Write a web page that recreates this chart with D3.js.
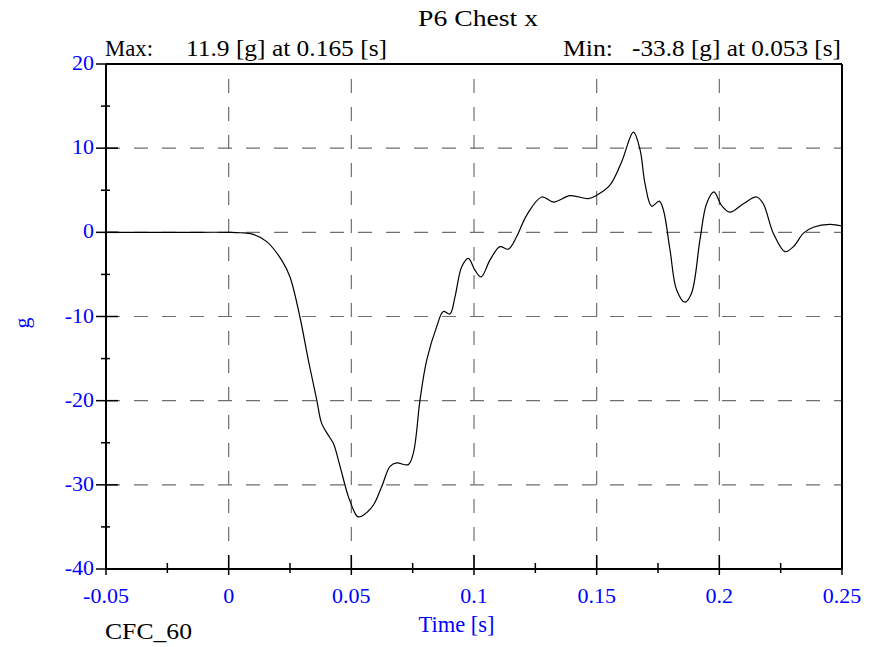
<!DOCTYPE html>
<html><head><meta charset="utf-8">
<script src="https://cdn.jsdelivr.net/npm/d3@7"></script>
<style>body{margin:0;background:#fff;} svg{display:block;}</style>
</head><body><div id="chart"></div>
<script>
const title = "P6 Chest x";
const maxKey = "Max:", maxText = "11.9 [g] at 0.165 [s]";
const minKey = "Min:", minText = "-33.8 [g] at 0.053 [s]";
const xTicks = [-0.05, 0, 0.05, 0.1, 0.15, 0.2, 0.25];
const xTickLabels = ["-0.05","0","0.05","0.1","0.15","0.2","0.25"];
const yTicks = [20, 10, 0, -10, -20, -30, -40];
const yTickLabels = ["20","10","0","-10","-20","-30","-40"];
const times = [-0.05,-0.02,0,0.005,0.010,0.0155,0.0216,0.025,0.029,0.0325,0.0359,0.0379,0.0406,0.0427,0.0454,0.0488,0.0522,0.053,0.0549,0.059,0.0624,0.0658,0.0685,0.0732,0.0753,0.078,0.0807,0.0848,0.0875,0.0902,0.0923,0.095,0.0977,0.1004,0.1029,0.1065,0.1106,0.114,0.1174,0.1215,0.1276,0.1324,0.1392,0.1466,0.150,0.1554,0.1602,0.165,0.1677,0.1697,0.1724,0.1755,0.1772,0.1799,0.1826,0.186,0.1887,0.1921,0.1948,0.1978,0.2009,0.2043,0.2098,0.2152,0.2179,0.222,0.2268,0.2302,0.2343,0.2383,0.2451,0.25];
const values = [0,0,0,-0.05,-0.24,-1.1,-3.3,-5.3,-10,-15.2,-19.9,-22.7,-24.1,-25.1,-27.8,-31.4,-33.7,-33.8,-33.6,-32.4,-30.2,-27.8,-27.4,-27.6,-26.2,-19.9,-15.2,-11.2,-9.4,-9.7,-7.6,-4.1,-3.1,-4.5,-5.3,-3.3,-1.7,-2.0,-0.5,2.05,4.2,3.6,4.35,4.0,4.4,5.6,8.4,11.9,9.8,5.8,3.1,3.7,2.65,-2.1,-6.85,-8.3,-7.2,-0.9,3.4,4.8,3.2,2.4,3.4,4.2,3.4,-0.1,-2.3,-1.7,-0.1,0.6,0.95,0.75];

const W = 882, H = 647;
const L = 106, R = 842, T = 64, B = 569;
const svg = d3.select("#chart").append("svg").attr("width", W).attr("height", H);
const x = d3.scaleLinear().domain([-0.05, 0.25]).range([L, R]);
const y = d3.scaleLinear().domain([-40, 20]).range([B, T]);
const font = "'Liberation Serif', 'Times New Roman', serif";

// grid
const grid = svg.append("g").attr("stroke", "#6e6e6e").attr("stroke-width", 1.2).attr("stroke-dasharray", "14,14");
xTicks.slice(1, -1).forEach(t => grid.append("line").attr("x1", x(t)).attr("x2", x(t)).attr("y1", B).attr("y2", T));
yTicks.slice(1, -1).forEach(v => grid.append("line").attr("x1", L).attr("x2", R).attr("y1", y(v)).attr("y2", y(v)));

// curve
const pts = times.map((t, i) => [t, values[i]]);
svg.append("path").datum(pts)
  .attr("fill", "none").attr("stroke", "#000").attr("stroke-width", 1.2)
  .attr("d", d3.line().x(d => x(d[0])).y(d => y(d[1])).curve(d3.curveCatmullRom.alpha(0.5)));

// frame
const ax = svg.append("g").attr("stroke", "#000");
ax.append("line").attr("x1", L).attr("x2", R).attr("y1", B).attr("y2", B).attr("stroke-width", 2);
ax.append("line").attr("x1", L).attr("x2", L).attr("y1", B).attr("y2", T).attr("stroke-width", 2);
ax.append("line").attr("x1", L).attr("x2", R).attr("y1", T).attr("y2", T).attr("stroke-width", 2);
ax.append("line").attr("x1", R).attr("x2", R).attr("y1", B).attr("y2", T).attr("stroke-width", 2);

// x ticks
const xMinor = d3.range(-0.025, 0.25, 0.05);
xTicks.forEach(t => ax.append("line").attr("x1", x(t)).attr("x2", x(t)).attr("y1", B + 6).attr("y2", B - 14).attr("stroke-width", 1.5));
xMinor.forEach(t => ax.append("line").attr("x1", x(t)).attr("x2", x(t)).attr("y1", B + 4).attr("y2", B - 6).attr("stroke-width", 1.5));
// y ticks
const yMinor = d3.range(-35, 20, 10);
yTicks.forEach(v => ax.append("line").attr("x1", L - 10).attr("x2", L + 12).attr("y1", y(v)).attr("y2", y(v)).attr("stroke-width", 1.5));
yMinor.forEach(v => ax.append("line").attr("x1", L - 5).attr("x2", L + 4).attr("y1", y(v)).attr("y2", y(v)).attr("stroke-width", 1.5));

// labels
const txt = svg.append("g").attr("font-family", font);
xTicks.forEach((t, i) => txt.append("text").attr("x", x(t)).attr("y", 603).attr("text-anchor", "middle")
  .attr("font-size", 22).attr("fill", "#0000ff").text(xTickLabels[i]));
yTicks.forEach((v, i) => txt.append("text").attr("x", 94).attr("y", y(v) + 6).attr("text-anchor", "end")
  .attr("font-size", 22).attr("fill", "#0000ff").text(yTickLabels[i]));
txt.append("text").attr("x", 418).attr("y", 26).attr("font-size", 24).attr("fill", "#000")
  .attr("textLength", 120).attr("lengthAdjust", "spacingAndGlyphs").text(title);
txt.append("text").attr("x", 105).attr("y", 56).attr("font-size", 23).attr("fill", "#000")
  .attr("textLength", 48).attr("lengthAdjust", "spacingAndGlyphs").text(maxKey);
txt.append("text").attr("x", 186).attr("y", 56).attr("font-size", 23).attr("fill", "#000")
  .attr("textLength", 201).attr("lengthAdjust", "spacingAndGlyphs").text(maxText);
txt.append("text").attr("x", 563).attr("y", 56).attr("font-size", 23).attr("fill", "#000")
  .attr("textLength", 50).attr("lengthAdjust", "spacingAndGlyphs").text(minKey);
txt.append("text").attr("x", 632).attr("y", 56).attr("font-size", 23).attr("fill", "#000")
  .attr("textLength", 209).attr("lengthAdjust", "spacingAndGlyphs").text(minText);
txt.append("text").attr("x", 456.5).attr("y", 632).attr("text-anchor", "middle").attr("font-size", 22.5).attr("fill", "#0000ff").text("Time [s]");
txt.append("text").attr("x", 105).attr("y", 639).attr("font-size", 24).attr("fill", "#000")
  .attr("textLength", 87).attr("lengthAdjust", "spacingAndGlyphs").text("CFC_60");
txt.append("text").attr("transform", "translate(29,323) rotate(-90)").attr("text-anchor", "middle").attr("font-size", 22).attr("fill", "#0000ff").text("g");
</script></body></html>
